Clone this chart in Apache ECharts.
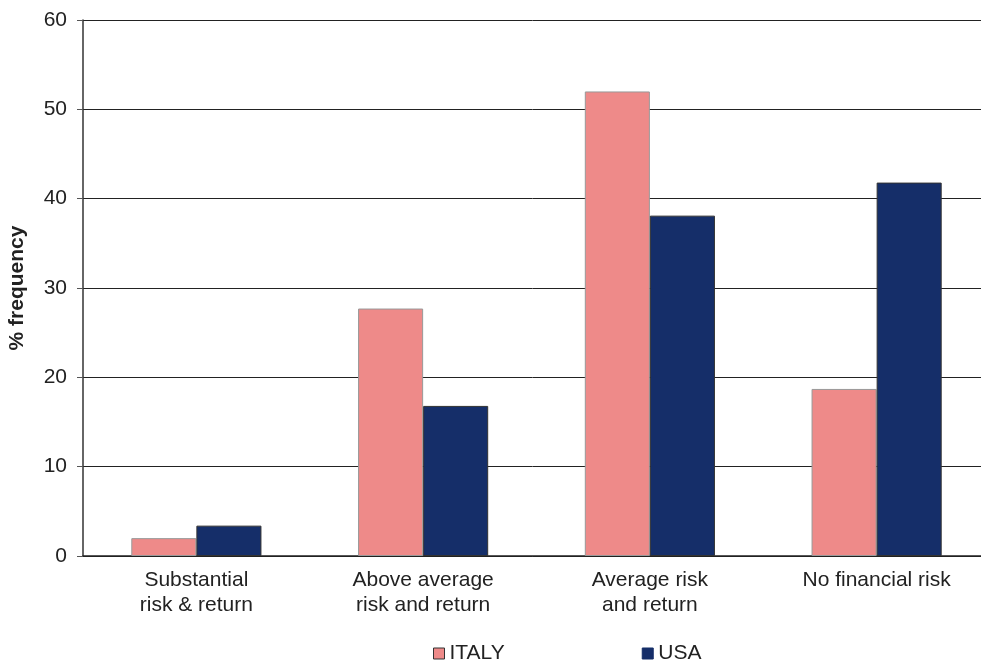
<!DOCTYPE html>
<html><head><meta charset="utf-8">
<script src="https://cdn.jsdelivr.net/npm/echarts@6/dist/echarts.min.js"></script>
<style>html,body{margin:0;padding:0;background:#fff}#c{width:981px;height:662px}</style>
</head><body><div id="c"></div>
<script>
const categories = ['Substantial\nrisk & return', 'Above average\nrisk and return', 'Average risk\nand return', 'No financial risk'];
const italy = [2.0, 27.7, 52.0, 18.7];
const usa = [3.4, 16.8, 38.1, 41.8];
const yTicks = [0, 10, 20, 30, 40, 50, 60];

const chart = echarts.init(document.getElementById('c'));
const font = 'Liberation Sans, Arial, sans-serif';
chart.setOption({
  animation: false,
  grid: {left: 83, right: -9, top: 20, bottom: 106, outerBoundsMode: 'none', containLabel: false},
  legend: {
    bottom: -7, left: 428, itemWidth: 11, itemHeight: 11, itemGap: 137,
    icon: 'rect',
    textStyle: {fontFamily: font, fontSize: 21, color: '#222', padding: [2,0,0,0]},
    data: [
      {name: 'ITALY', itemStyle: {borderColor: '#333', borderWidth: 1}},
      {name: 'USA', itemStyle: {borderColor: '#152E69', borderWidth: 1}}
    ]
  },
  xAxis: {
    type: 'category', data: categories,
    axisLine: {lineStyle: {color: '#222', width: 1.5}},
    axisTick: {show: false},
    axisLabel: {fontFamily: font, fontSize: 21, color: '#222', lineHeight: 25, margin: 12}
  },
  yAxis: {
    type: 'value', min: 0, max: 60, interval: 10,
    name: '% frequency', nameLocation: 'middle', nameGap: 55, nameRotate: 90,
    nameTextStyle: {fontFamily: font, fontSize: 21, fontWeight: 'bold', color: '#222'},
    axisLine: {show: true, lineStyle: {color: '#333', width: 1.5}},
    axisTick: {show: true, length: 6, lineStyle: {color: '#555'}},
    axisLabel: {fontFamily: font, fontSize: 21, color: '#222', margin: 16,
      formatter: v => yTicks.includes(v) ? String(v) : ''},
    splitLine: {lineStyle: {color: '#222', width: 1}}
  },
  series: [
    {name: 'ITALY', type: 'bar', data: italy, barGap: '0%', barCategoryGap: '42.6%',
     itemStyle: {color: '#EE8A89', borderColor: '#999', borderWidth: 1}},
    {name: 'USA', type: 'bar', data: usa,
     itemStyle: {color: '#152E69', borderColor: '#333', borderWidth: 1}}
  ]
});
</script></body></html>
